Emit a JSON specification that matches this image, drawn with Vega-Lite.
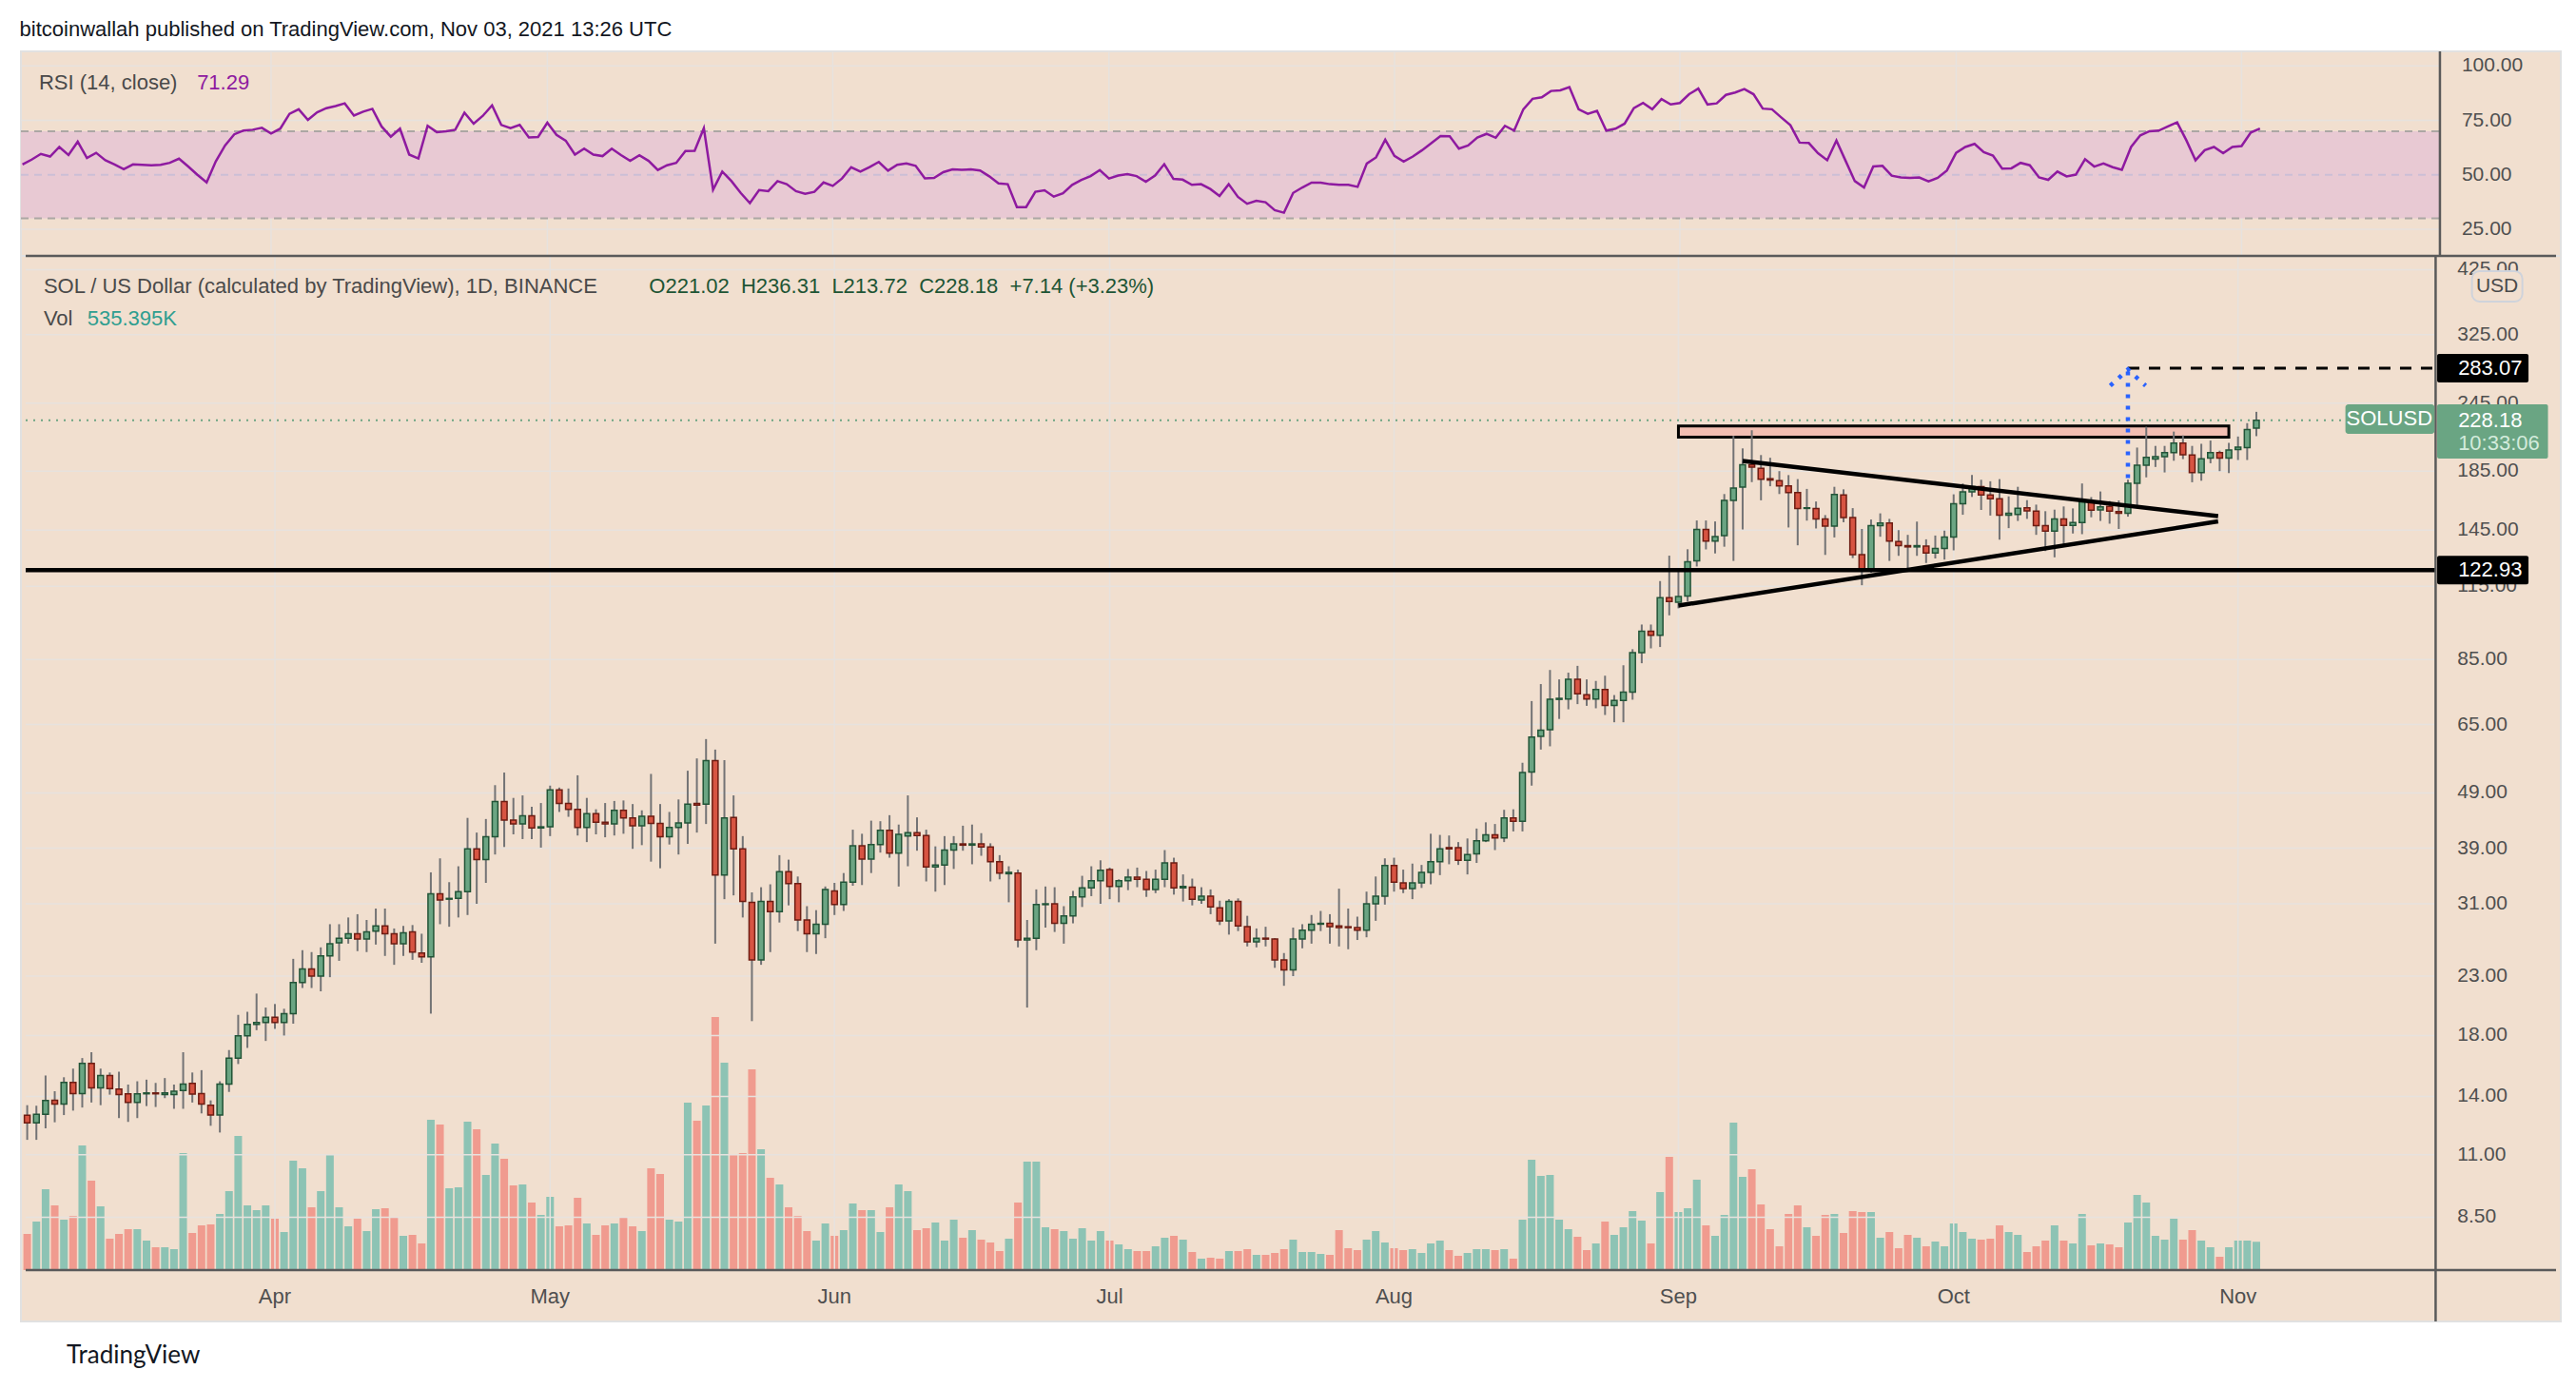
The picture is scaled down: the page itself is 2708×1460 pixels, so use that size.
{
  "$schema": "https://vega.github.io/schema/vega-lite/v6.json",
  "autosize": {"type": "pad"},
  "background": "#ffffff",
  "padding": {"left": 17, "top": 20, "right": 18, "bottom": 0},
  "title": {
    "text": "bitcoinwallah published on TradingView.com, Nov 03, 2021 13:26 UTC",
    "anchor": "start", "dx": 3, "offset": 8.4,
    "fontSize": 22, "fontWeight": "normal", "font": "Liberation Sans", "color": "#131722"
  },
  "spacing": 0,
  "bounds": "flush",
  "datasets": {
    "sol": [
      {"d":"2021-03-05","o":12.95,"h":13.5,"l":11.7,"c":12.55,"v":684,"r":54.8},
      {"d":"2021-03-06","o":12.55,"h":13.47,"l":11.7,"c":13.0,"v":918,"r":57.0},
      {"d":"2021-03-07","o":13.0,"h":15.26,"l":12.27,"c":13.77,"v":1530,"r":59.6},
      {"d":"2021-03-08","o":13.78,"h":14.3,"l":12.58,"c":13.56,"v":1224,"r":58.4},
      {"d":"2021-03-09","o":13.56,"h":15.15,"l":12.96,"c":14.83,"v":954,"r":62.8},
      {"d":"2021-03-10","o":14.83,"h":15.7,"l":13.2,"c":14.16,"v":1026,"r":59.1},
      {"d":"2021-03-11","o":14.16,"h":16.4,"l":13.37,"c":16.04,"v":2358,"r":65.2},
      {"d":"2021-03-12","o":16.04,"h":16.8,"l":13.65,"c":14.5,"v":1692,"r":57.7},
      {"d":"2021-03-13","o":14.5,"h":15.7,"l":13.5,"c":15.26,"v":1206,"r":60.1},
      {"d":"2021-03-14","o":15.26,"h":15.45,"l":14.1,"c":14.45,"v":594,"r":56.7},
      {"d":"2021-03-15","o":14.43,"h":15.5,"l":12.8,"c":14.1,"v":684,"r":54.8},
      {"d":"2021-03-16","o":14.15,"h":14.7,"l":12.6,"c":13.65,"v":774,"r":52.6},
      {"d":"2021-03-17","o":13.65,"h":14.9,"l":12.8,"c":14.15,"v":774,"r":54.8},
      {"d":"2021-03-18","o":14.15,"h":15.0,"l":13.45,"c":14.2,"v":558,"r":54.6},
      {"d":"2021-03-19","o":14.2,"h":14.8,"l":13.4,"c":14.15,"v":432,"r":54.4},
      {"d":"2021-03-20","o":14.1,"h":15.1,"l":13.9,"c":14.2,"v":432,"r":54.6},
      {"d":"2021-03-21","o":14.1,"h":14.7,"l":13.3,"c":14.3,"v":396,"r":55.5},
      {"d":"2021-03-22","o":14.35,"h":16.8,"l":13.3,"c":14.73,"v":2214,"r":57.4},
      {"d":"2021-03-23","o":14.77,"h":15.45,"l":13.65,"c":14.13,"v":702,"r":53.8},
      {"d":"2021-03-24","o":14.16,"h":15.6,"l":13.05,"c":13.56,"v":846,"r":50.0},
      {"d":"2021-03-25","o":13.49,"h":13.77,"l":12.4,"c":12.96,"v":864,"r":46.5},
      {"d":"2021-03-26","o":12.96,"h":14.9,"l":12.06,"c":14.73,"v":1062,"r":56.2},
      {"d":"2021-03-27","o":14.73,"h":16.95,"l":14.26,"c":16.4,"v":1494,"r":63.5},
      {"d":"2021-03-28","o":16.4,"h":19.6,"l":16.0,"c":17.97,"v":2538,"r":68.6},
      {"d":"2021-03-29","o":17.97,"h":19.85,"l":17.1,"c":18.85,"v":1224,"r":70.3},
      {"d":"2021-03-30","o":18.85,"h":21.4,"l":18.4,"c":19.0,"v":1134,"r":70.7},
      {"d":"2021-03-31","o":19.0,"h":20.2,"l":17.6,"c":19.4,"v":1224,"r":71.6},
      {"d":"2021-04-01","o":19.4,"h":20.5,"l":18.5,"c":19.0,"v":972,"r":69.0},
      {"d":"2021-04-02","o":19.0,"h":20.1,"l":18.0,"c":19.7,"v":720,"r":71.2},
      {"d":"2021-04-03","o":19.7,"h":24.7,"l":18.9,"c":22.4,"v":2070,"r":78.0},
      {"d":"2021-04-04","o":22.4,"h":25.6,"l":21.9,"c":23.7,"v":1926,"r":80.1},
      {"d":"2021-04-05","o":23.7,"h":25.4,"l":21.9,"c":23.0,"v":1188,"r":75.2},
      {"d":"2021-04-06","o":23.0,"h":25.9,"l":21.6,"c":25.0,"v":1494,"r":78.7},
      {"d":"2021-04-07","o":25.0,"h":28.5,"l":22.9,"c":26.3,"v":2196,"r":80.6},
      {"d":"2021-04-08","o":26.4,"h":28.5,"l":24.5,"c":26.9,"v":1188,"r":81.6},
      {"d":"2021-04-09","o":26.9,"h":29.3,"l":26.3,"c":27.4,"v":828,"r":82.8},
      {"d":"2021-04-10","o":27.4,"h":29.7,"l":25.5,"c":26.8,"v":972,"r":77.2},
      {"d":"2021-04-11","o":26.8,"h":29.0,"l":25.4,"c":27.6,"v":738,"r":79.0},
      {"d":"2021-04-12","o":27.7,"h":30.4,"l":26.2,"c":28.3,"v":1152,"r":80.3},
      {"d":"2021-04-13","o":28.3,"h":30.4,"l":25.0,"c":27.4,"v":1170,"r":72.2},
      {"d":"2021-04-14","o":27.4,"h":28.0,"l":24.1,"c":26.3,"v":1008,"r":67.5},
      {"d":"2021-04-15","o":26.3,"h":28.3,"l":25.0,"c":27.5,"v":648,"r":71.2},
      {"d":"2021-04-16","o":27.6,"h":28.4,"l":24.6,"c":25.4,"v":666,"r":59.3},
      {"d":"2021-04-17","o":25.3,"h":27.4,"l":24.3,"c":24.9,"v":504,"r":57.5},
      {"d":"2021-04-18","o":24.9,"h":35.3,"l":19.7,"c":32.3,"v":2844,"r":72.5},
      {"d":"2021-04-19","o":32.3,"h":37.4,"l":28.5,"c":31.5,"v":2754,"r":69.6},
      {"d":"2021-04-20","o":31.6,"h":33.9,"l":28.2,"c":31.7,"v":1548,"r":70.0},
      {"d":"2021-04-21","o":31.7,"h":36.2,"l":29.3,"c":32.6,"v":1566,"r":70.7},
      {"d":"2021-04-22","o":32.6,"h":44.2,"l":29.6,"c":38.9,"v":2808,"r":78.5},
      {"d":"2021-04-23","o":38.9,"h":41.6,"l":31.0,"c":37.2,"v":2664,"r":73.5},
      {"d":"2021-04-24","o":37.2,"h":44.0,"l":33.8,"c":40.9,"v":1800,"r":77.1},
      {"d":"2021-04-25","o":40.9,"h":50.6,"l":38.0,"c":47.3,"v":2394,"r":81.9},
      {"d":"2021-04-26","o":47.3,"h":53.3,"l":39.2,"c":43.8,"v":2106,"r":72.9},
      {"d":"2021-04-27","o":43.8,"h":48.0,"l":41.3,"c":43.1,"v":1602,"r":71.4},
      {"d":"2021-04-28","o":43.1,"h":48.5,"l":40.5,"c":44.6,"v":1620,"r":72.9},
      {"d":"2021-04-29","o":44.6,"h":46.3,"l":40.5,"c":42.4,"v":1278,"r":67.2},
      {"d":"2021-04-30","o":42.4,"h":47.0,"l":39.1,"c":42.6,"v":1044,"r":67.4},
      {"d":"2021-05-01","o":42.6,"h":50.5,"l":41.0,"c":49.6,"v":1386,"r":73.9},
      {"d":"2021-05-02","o":49.6,"h":50.1,"l":45.3,"c":46.9,"v":828,"r":68.3},
      {"d":"2021-05-03","o":46.9,"h":49.9,"l":44.4,"c":45.8,"v":846,"r":65.7},
      {"d":"2021-05-04","o":45.8,"h":52.7,"l":41.1,"c":42.5,"v":1368,"r":59.3},
      {"d":"2021-05-05","o":42.5,"h":48.0,"l":40.0,"c":45.0,"v":882,"r":62.0},
      {"d":"2021-05-06","o":45.0,"h":45.8,"l":41.3,"c":43.4,"v":666,"r":59.3},
      {"d":"2021-05-07","o":43.4,"h":47.0,"l":40.8,"c":43.1,"v":846,"r":58.6},
      {"d":"2021-05-08","o":43.1,"h":47.4,"l":41.1,"c":45.6,"v":882,"r":62.0},
      {"d":"2021-05-09","o":45.6,"h":47.5,"l":41.4,"c":44.2,"v":1008,"r":59.1},
      {"d":"2021-05-10","o":44.2,"h":46.8,"l":38.9,"c":42.8,"v":828,"r":56.4},
      {"d":"2021-05-11","o":42.8,"h":45.6,"l":39.5,"c":44.5,"v":738,"r":59.0},
      {"d":"2021-05-12","o":44.5,"h":53.0,"l":36.9,"c":43.2,"v":1926,"r":56.4},
      {"d":"2021-05-13","o":43.2,"h":46.8,"l":35.9,"c":40.9,"v":1818,"r":52.2},
      {"d":"2021-05-14","o":40.9,"h":45.3,"l":39.6,"c":42.5,"v":954,"r":54.4},
      {"d":"2021-05-15","o":42.5,"h":47.7,"l":38.0,"c":43.3,"v":918,"r":55.5},
      {"d":"2021-05-16","o":43.3,"h":53.7,"l":39.7,"c":46.8,"v":3168,"r":60.9},
      {"d":"2021-05-17","o":46.9,"h":56.5,"l":41.6,"c":46.6,"v":2826,"r":61.0},
      {"d":"2021-05-18","o":46.8,"h":61.2,"l":43.1,"c":56.0,"v":3114,"r":71.4},
      {"d":"2021-05-19","o":56.0,"h":58.6,"l":26.3,"c":34.9,"v":4788,"r":43.2},
      {"d":"2021-05-20","o":34.9,"h":56.1,"l":31.6,"c":44.2,"v":3924,"r":51.5},
      {"d":"2021-05-21","o":44.3,"h":48.5,"l":32.1,"c":38.9,"v":2178,"r":47.1},
      {"d":"2021-05-22","o":38.9,"h":41.0,"l":29.3,"c":31.3,"v":2214,"r":41.7},
      {"d":"2021-05-23","o":31.2,"h":32.5,"l":19.1,"c":24.6,"v":3798,"r":37.0},
      {"d":"2021-05-24","o":24.6,"h":33.2,"l":24.1,"c":31.3,"v":2286,"r":43.0},
      {"d":"2021-05-25","o":31.3,"h":33.6,"l":25.4,"c":30.0,"v":1746,"r":42.5},
      {"d":"2021-05-26","o":30.0,"h":37.9,"l":28.7,"c":35.4,"v":1620,"r":47.1},
      {"d":"2021-05-27","o":35.4,"h":37.2,"l":30.8,"c":33.7,"v":1188,"r":45.7},
      {"d":"2021-05-28","o":33.7,"h":34.7,"l":27.7,"c":29.0,"v":1026,"r":42.5},
      {"d":"2021-05-29","o":29.0,"h":30.7,"l":25.4,"c":27.4,"v":738,"r":41.3},
      {"d":"2021-05-30","o":27.4,"h":30.2,"l":25.2,"c":28.5,"v":558,"r":42.2},
      {"d":"2021-05-31","o":28.5,"h":33.3,"l":26.9,"c":32.9,"v":882,"r":46.5},
      {"d":"2021-06-01","o":32.7,"h":33.8,"l":29.6,"c":30.9,"v":648,"r":44.9},
      {"d":"2021-06-02","o":30.9,"h":35.2,"l":30.1,"c":33.9,"v":756,"r":48.3},
      {"d":"2021-06-03","o":33.9,"h":42.1,"l":33.4,"c":39.4,"v":1260,"r":53.5},
      {"d":"2021-06-04","o":39.4,"h":41.4,"l":33.5,"c":37.3,"v":1134,"r":51.5},
      {"d":"2021-06-05","o":37.3,"h":43.7,"l":35.2,"c":39.6,"v":1134,"r":53.6},
      {"d":"2021-06-06","o":39.6,"h":43.6,"l":38.3,"c":42.0,"v":720,"r":55.9},
      {"d":"2021-06-07","o":42.0,"h":44.7,"l":37.5,"c":38.2,"v":1188,"r":51.9},
      {"d":"2021-06-08","o":38.2,"h":43.0,"l":33.3,"c":41.3,"v":1620,"r":54.6},
      {"d":"2021-06-09","o":41.0,"h":48.5,"l":36.2,"c":41.6,"v":1494,"r":55.2},
      {"d":"2021-06-10","o":41.6,"h":44.3,"l":38.6,"c":41.1,"v":756,"r":54.1},
      {"d":"2021-06-11","o":41.1,"h":42.1,"l":34.0,"c":36.1,"v":792,"r":48.4},
      {"d":"2021-06-12","o":36.1,"h":39.3,"l":32.6,"c":36.4,"v":900,"r":48.6},
      {"d":"2021-06-13","o":36.4,"h":41.0,"l":33.5,"c":38.7,"v":558,"r":51.2},
      {"d":"2021-06-14","o":38.7,"h":41.0,"l":35.8,"c":39.7,"v":954,"r":52.5},
      {"d":"2021-06-15","o":39.7,"h":42.8,"l":38.6,"c":39.5,"v":612,"r":52.3},
      {"d":"2021-06-16","o":39.5,"h":43.0,"l":36.5,"c":39.7,"v":756,"r":52.5},
      {"d":"2021-06-17","o":39.7,"h":41.5,"l":37.8,"c":39.2,"v":576,"r":52.0},
      {"d":"2021-06-18","o":39.2,"h":39.8,"l":34.0,"c":36.9,"v":522,"r":49.3},
      {"d":"2021-06-19","o":36.9,"h":37.9,"l":34.3,"c":35.2,"v":360,"r":46.1},
      {"d":"2021-06-20","o":35.1,"h":36.2,"l":31.2,"c":35.3,"v":594,"r":45.7},
      {"d":"2021-06-21","o":35.2,"h":35.7,"l":25.9,"c":26.7,"v":1278,"r":35.2},
      {"d":"2021-06-22","o":26.7,"h":29.0,"l":20.2,"c":26.9,"v":2052,"r":35.2},
      {"d":"2021-06-23","o":26.9,"h":32.9,"l":25.6,"c":30.9,"v":2052,"r":42.2},
      {"d":"2021-06-24","o":30.9,"h":33.3,"l":28.1,"c":31.0,"v":810,"r":42.9},
      {"d":"2021-06-25","o":31.0,"h":33.2,"l":27.6,"c":28.6,"v":774,"r":40.0},
      {"d":"2021-06-26","o":28.6,"h":30.7,"l":26.3,"c":29.5,"v":738,"r":41.5},
      {"d":"2021-06-27","o":29.5,"h":32.7,"l":28.6,"c":31.9,"v":594,"r":45.4},
      {"d":"2021-06-28","o":31.9,"h":34.8,"l":30.6,"c":33.1,"v":792,"r":47.7},
      {"d":"2021-06-29","o":33.1,"h":36.2,"l":32.0,"c":34.1,"v":558,"r":49.4},
      {"d":"2021-06-30","o":34.1,"h":37.1,"l":31.0,"c":35.6,"v":738,"r":52.2},
      {"d":"2021-07-01","o":35.7,"h":36.0,"l":31.6,"c":33.3,"v":558,"r":48.3},
      {"d":"2021-07-02","o":33.3,"h":34.3,"l":31.2,"c":34.1,"v":486,"r":49.7},
      {"d":"2021-07-03","o":34.1,"h":35.8,"l":32.8,"c":34.6,"v":396,"r":50.3},
      {"d":"2021-07-04","o":34.6,"h":36.0,"l":33.2,"c":34.3,"v":360,"r":49.4},
      {"d":"2021-07-05","o":34.3,"h":35.5,"l":31.9,"c":32.9,"v":360,"r":46.8},
      {"d":"2021-07-06","o":32.9,"h":35.7,"l":32.4,"c":34.3,"v":450,"r":49.7},
      {"d":"2021-07-07","o":34.3,"h":38.7,"l":33.2,"c":36.7,"v":612,"r":54.9},
      {"d":"2021-07-08","o":36.7,"h":37.5,"l":32.2,"c":33.1,"v":648,"r":48.1},
      {"d":"2021-07-09","o":33.1,"h":35.0,"l":31.3,"c":33.3,"v":576,"r":47.8},
      {"d":"2021-07-10","o":33.2,"h":34.4,"l":30.8,"c":31.6,"v":342,"r":45.4},
      {"d":"2021-07-11","o":31.5,"h":33.2,"l":31.0,"c":32.0,"v":216,"r":45.7},
      {"d":"2021-07-12","o":32.0,"h":32.9,"l":29.7,"c":30.6,"v":234,"r":43.5},
      {"d":"2021-07-13","o":30.5,"h":31.4,"l":28.4,"c":28.9,"v":216,"r":40.3},
      {"d":"2021-07-14","o":28.9,"h":31.6,"l":27.3,"c":31.3,"v":360,"r":45.7},
      {"d":"2021-07-15","o":31.3,"h":31.7,"l":27.7,"c":28.3,"v":360,"r":39.9},
      {"d":"2021-07-16","o":28.2,"h":29.5,"l":26.0,"c":26.5,"v":396,"r":36.7},
      {"d":"2021-07-17","o":26.5,"h":28.0,"l":25.9,"c":26.9,"v":288,"r":38.1},
      {"d":"2021-07-18","o":26.9,"h":28.2,"l":26.0,"c":26.8,"v":288,"r":37.4},
      {"d":"2021-07-19","o":26.8,"h":26.9,"l":23.8,"c":24.6,"v":324,"r":33.8},
      {"d":"2021-07-20","o":24.6,"h":25.3,"l":22.1,"c":23.6,"v":396,"r":32.6},
      {"d":"2021-07-21","o":23.6,"h":28.1,"l":23.0,"c":26.8,"v":576,"r":41.7},
      {"d":"2021-07-22","o":26.8,"h":28.5,"l":25.8,"c":27.8,"v":342,"r":44.2},
      {"d":"2021-07-23","o":27.8,"h":29.6,"l":26.3,"c":28.5,"v":342,"r":46.4},
      {"d":"2021-07-24","o":28.5,"h":30.1,"l":27.7,"c":28.6,"v":306,"r":46.4},
      {"d":"2021-07-25","o":28.6,"h":29.7,"l":26.3,"c":28.2,"v":288,"r":45.7},
      {"d":"2021-07-26","o":28.3,"h":33.0,"l":26.0,"c":28.1,"v":756,"r":45.4},
      {"d":"2021-07-27","o":28.2,"h":30.4,"l":25.7,"c":28.1,"v":414,"r":45.4},
      {"d":"2021-07-28","o":28.1,"h":29.4,"l":26.7,"c":27.8,"v":378,"r":44.5},
      {"d":"2021-07-29","o":27.8,"h":32.6,"l":27.0,"c":31.0,"v":576,"r":55.2},
      {"d":"2021-07-30","o":31.0,"h":34.7,"l":28.9,"c":32.0,"v":738,"r":58.0},
      {"d":"2021-07-31","o":32.0,"h":37.4,"l":30.9,"c":36.3,"v":522,"r":66.1},
      {"d":"2021-08-01","o":36.3,"h":37.5,"l":32.6,"c":33.9,"v":414,"r":58.7},
      {"d":"2021-08-02","o":33.8,"h":35.7,"l":32.4,"c":33.0,"v":378,"r":56.1},
      {"d":"2021-08-03","o":33.0,"h":36.6,"l":31.6,"c":33.8,"v":396,"r":58.4},
      {"d":"2021-08-04","o":33.8,"h":36.4,"l":33.1,"c":35.3,"v":324,"r":61.3},
      {"d":"2021-08-05","o":35.3,"h":41.4,"l":33.6,"c":36.9,"v":504,"r":64.5},
      {"d":"2021-08-06","o":36.9,"h":41.2,"l":34.9,"c":38.9,"v":558,"r":67.8},
      {"d":"2021-08-07","o":39.1,"h":41.1,"l":36.5,"c":38.9,"v":378,"r":67.7},
      {"d":"2021-08-08","o":39.1,"h":40.0,"l":36.4,"c":37.1,"v":270,"r":62.0},
      {"d":"2021-08-09","o":37.1,"h":40.6,"l":35.0,"c":38.0,"v":324,"r":63.5},
      {"d":"2021-08-10","o":38.1,"h":42.3,"l":36.7,"c":40.2,"v":396,"r":67.1},
      {"d":"2021-08-11","o":40.2,"h":43.4,"l":40.0,"c":41.2,"v":396,"r":68.8},
      {"d":"2021-08-12","o":41.2,"h":43.1,"l":38.7,"c":40.7,"v":378,"r":67.0},
      {"d":"2021-08-13","o":40.7,"h":45.7,"l":40.0,"c":44.2,"v":396,"r":72.5},
      {"d":"2021-08-14","o":44.2,"h":45.8,"l":41.8,"c":43.6,"v":216,"r":70.3},
      {"d":"2021-08-15","o":43.6,"h":55.5,"l":41.8,"c":53.3,"v":954,"r":80.1},
      {"d":"2021-08-16","o":53.4,"h":71.6,"l":50.5,"c":61.7,"v":2088,"r":84.9},
      {"d":"2021-08-17","o":61.9,"h":76.8,"l":58.6,"c":63.5,"v":1782,"r":85.6},
      {"d":"2021-08-18","o":63.6,"h":81.4,"l":59.4,"c":72.1,"v":1800,"r":88.5},
      {"d":"2021-08-19","o":72.1,"h":78.3,"l":66.5,"c":72.4,"v":954,"r":88.8},
      {"d":"2021-08-20","o":72.2,"h":80.5,"l":69.2,"c":78.3,"v":774,"r":90.3},
      {"d":"2021-08-21","o":78.3,"h":82.8,"l":70.7,"c":73.8,"v":630,"r":80.1},
      {"d":"2021-08-22","o":73.5,"h":78.3,"l":70.2,"c":72.2,"v":378,"r":78.0},
      {"d":"2021-08-23","o":72.2,"h":77.8,"l":69.5,"c":75.1,"v":504,"r":79.4},
      {"d":"2021-08-24","o":75.1,"h":79.5,"l":67.6,"c":70.3,"v":918,"r":70.3},
      {"d":"2021-08-25","o":70.3,"h":73.4,"l":65.6,"c":71.8,"v":666,"r":71.2},
      {"d":"2021-08-26","o":71.8,"h":83.0,"l":65.6,"c":74.3,"v":810,"r":73.5},
      {"d":"2021-08-27","o":74.3,"h":88.7,"l":72.0,"c":87.4,"v":1116,"r":80.6},
      {"d":"2021-08-28","o":87.4,"h":98.2,"l":83.7,"c":95.5,"v":936,"r":83.0},
      {"d":"2021-08-29","o":95.5,"h":98.2,"l":89.0,"c":93.9,"v":504,"r":80.1},
      {"d":"2021-08-30","o":93.9,"h":117.5,"l":89.5,"c":109.7,"v":1476,"r":84.8},
      {"d":"2021-08-31","o":109.7,"h":130.5,"l":102.0,"c":108.0,"v":2142,"r":82.3},
      {"d":"2021-09-01","o":107.7,"h":122.2,"l":105.0,"c":110.2,"v":1098,"r":83.0},
      {"d":"2021-09-02","o":110.5,"h":134.0,"l":108.0,"c":127.3,"v":1170,"r":87.0},
      {"d":"2021-09-03","o":127.8,"h":150.9,"l":124.8,"c":145.4,"v":1710,"r":89.6},
      {"d":"2021-09-04","o":145.4,"h":150.9,"l":133.9,"c":138.6,"v":846,"r":82.3},
      {"d":"2021-09-05","o":138.6,"h":150.3,"l":131.7,"c":141.2,"v":648,"r":82.8},
      {"d":"2021-09-06","o":141.8,"h":168.3,"l":135.4,"c":164.0,"v":1044,"r":86.7},
      {"d":"2021-09-07","o":164.0,"h":214.0,"l":127.7,"c":172.5,"v":2790,"r":87.8},
      {"d":"2021-09-08","o":173.2,"h":203.2,"l":145.4,"c":189.9,"v":1764,"r":89.4},
      {"d":"2021-09-09","o":189.9,"h":219.0,"l":176.8,"c":188.1,"v":1908,"r":87.0},
      {"d":"2021-09-10","o":187.1,"h":197.7,"l":164.0,"c":178.9,"v":1242,"r":80.4},
      {"d":"2021-09-11","o":179.3,"h":195.5,"l":173.8,"c":178.3,"v":774,"r":80.1},
      {"d":"2021-09-12","o":177.8,"h":185.0,"l":168.3,"c":174.1,"v":450,"r":76.4},
      {"d":"2021-09-13","o":174.1,"h":182.0,"l":146.6,"c":169.3,"v":1062,"r":72.8},
      {"d":"2021-09-14","o":169.3,"h":179.0,"l":136.2,"c":158.5,"v":1224,"r":64.8},
      {"d":"2021-09-15","o":158.6,"h":171.9,"l":150.8,"c":159.0,"v":810,"r":64.6},
      {"d":"2021-09-16","o":158.6,"h":163.2,"l":146.0,"c":151.9,"v":648,"r":59.9},
      {"d":"2021-09-17","o":151.9,"h":154.3,"l":130.9,"c":147.4,"v":1044,"r":56.7},
      {"d":"2021-09-18","o":147.4,"h":173.4,"l":140.7,"c":168.0,"v":1062,"r":65.7},
      {"d":"2021-09-19","o":167.6,"h":171.6,"l":149.8,"c":152.8,"v":702,"r":56.4},
      {"d":"2021-09-20","o":152.8,"h":158.8,"l":129.2,"c":131.0,"v":1116,"r":47.1},
      {"d":"2021-09-21","o":131.0,"h":145.7,"l":115.5,"c":123.6,"v":1098,"r":44.2},
      {"d":"2021-09-22","o":123.6,"h":151.5,"l":121.6,"c":147.7,"v":1098,"r":53.8},
      {"d":"2021-09-23","o":147.7,"h":155.4,"l":141.1,"c":149.3,"v":612,"r":54.1},
      {"d":"2021-09-24","o":149.3,"h":151.9,"l":127.7,"c":138.6,"v":720,"r":49.6},
      {"d":"2021-09-25","o":138.3,"h":145.0,"l":130.4,"c":136.0,"v":414,"r":48.8},
      {"d":"2021-09-26","o":136.0,"h":142.2,"l":123.2,"c":135.3,"v":666,"r":48.6},
      {"d":"2021-09-27","o":135.3,"h":150.2,"l":130.4,"c":136.0,"v":612,"r":48.8},
      {"d":"2021-09-28","o":135.7,"h":139.6,"l":126.6,"c":131.9,"v":450,"r":47.0},
      {"d":"2021-09-29","o":131.9,"h":141.8,"l":129.0,"c":134.4,"v":540,"r":48.6},
      {"d":"2021-09-30","o":134.4,"h":144.7,"l":128.4,"c":140.9,"v":450,"r":52.0},
      {"d":"2021-10-01","o":140.9,"h":168.1,"l":133.4,"c":161.7,"v":882,"r":60.1},
      {"d":"2021-10-02","o":161.7,"h":175.8,"l":154.5,"c":169.8,"v":720,"r":62.8},
      {"d":"2021-10-03","o":169.8,"h":182.1,"l":166.3,"c":173.6,"v":594,"r":64.2},
      {"d":"2021-10-04","o":173.6,"h":178.5,"l":157.6,"c":167.6,"v":576,"r":60.4},
      {"d":"2021-10-05","o":167.6,"h":177.4,"l":154.0,"c":165.0,"v":594,"r":58.8},
      {"d":"2021-10-06","o":165.0,"h":179.0,"l":139.4,"c":154.3,"v":846,"r":52.9},
      {"d":"2021-10-07","o":154.3,"h":166.7,"l":146.2,"c":155.5,"v":720,"r":53.0},
      {"d":"2021-10-08","o":154.7,"h":173.4,"l":150.6,"c":158.7,"v":666,"r":55.5},
      {"d":"2021-10-09","o":159.0,"h":164.1,"l":151.9,"c":157.0,"v":342,"r":54.4},
      {"d":"2021-10-10","o":156.8,"h":161.1,"l":142.2,"c":147.7,"v":450,"r":48.8},
      {"d":"2021-10-11","o":147.7,"h":156.8,"l":133.0,"c":144.4,"v":558,"r":47.7},
      {"d":"2021-10-12","o":144.4,"h":157.8,"l":129.6,"c":151.9,"v":846,"r":51.5},
      {"d":"2021-10-13","o":151.9,"h":159.9,"l":136.6,"c":147.9,"v":558,"r":49.3},
      {"d":"2021-10-14","o":147.9,"h":158.6,"l":143.0,"c":149.6,"v":504,"r":50.1},
      {"d":"2021-10-15","o":149.6,"h":175.8,"l":142.6,"c":162.9,"v":1062,"r":57.2},
      {"d":"2021-10-16","o":162.9,"h":166.2,"l":152.9,"c":157.4,"v":468,"r":53.8},
      {"d":"2021-10-17","o":157.6,"h":170.1,"l":150.6,"c":159.6,"v":504,"r":55.2},
      {"d":"2021-10-18","o":159.9,"h":163.5,"l":148.9,"c":156.8,"v":486,"r":53.5},
      {"d":"2021-10-19","o":156.6,"h":163.9,"l":145.7,"c":155.4,"v":432,"r":52.3},
      {"d":"2021-10-20","o":155.4,"h":178.6,"l":153.3,"c":176.0,"v":900,"r":62.8},
      {"d":"2021-10-21","o":176.0,"h":203.9,"l":159.9,"c":189.5,"v":1422,"r":68.1},
      {"d":"2021-10-22","o":189.5,"h":222.2,"l":180.3,"c":195.9,"v":1278,"r":70.0},
      {"d":"2021-10-23","o":194.4,"h":205.3,"l":188.2,"c":196.3,"v":648,"r":70.3},
      {"d":"2021-10-24","o":196.3,"h":205.3,"l":184.0,"c":199.6,"v":576,"r":72.2},
      {"d":"2021-10-25","o":199.6,"h":217.8,"l":193.1,"c":207.7,"v":972,"r":74.1},
      {"d":"2021-10-26","o":207.7,"h":214.4,"l":194.4,"c":198.0,"v":576,"r":65.9},
      {"d":"2021-10-27","o":197.8,"h":205.3,"l":176.7,"c":183.8,"v":756,"r":56.7},
      {"d":"2021-10-28","o":183.8,"h":207.1,"l":177.8,"c":194.6,"v":558,"r":61.3},
      {"d":"2021-10-29","o":195.2,"h":209.9,"l":191.1,"c":199.7,"v":432,"r":62.8},
      {"d":"2021-10-30","o":199.7,"h":201.3,"l":185.0,"c":195.2,"v":252,"r":59.9},
      {"d":"2021-10-31","o":195.2,"h":207.9,"l":183.5,"c":201.9,"v":432,"r":62.8},
      {"d":"2021-11-01","o":202.2,"h":213.4,"l":193.7,"c":204.3,"v":558,"r":63.2},
      {"d":"2021-11-02","o":203.8,"h":225.5,"l":193.7,"c":219.7,"v":558,"r":69.4},
      {"d":"2021-11-03","o":221.02,"h":236.31,"l":213.72,"c":228.18,"v":535.395,"r":71.29}
    ],
    "months": [
      {"m":"2021-04-01","lab":"Apr"},{"m":"2021-05-01","lab":"May"},{"m":"2021-06-01","lab":"Jun"},{"m":"2021-07-01","lab":"Jul"},
      {"m":"2021-08-01","lab":"Aug"},{"m":"2021-09-01","lab":"Sep"},{"m":"2021-10-01","lab":"Oct"},{"m":"2021-11-01","lab":"Nov"}
    ],
    "priceTicks": [
      {"t":8.5},{"t":11},{"t":14},{"t":18},{"t":23},{"t":31},{"t":39},{"t":49},
      {"t":65},{"t":85},{"t":115},{"t":145},{"t":185},{"t":245},{"t":325},{"t":425}
    ],
    "rsiTicks": [{"t":25},{"t":50},{"t":75},{"t":100}],
    "triangle": [
      {"g":"upper","d":"2021-09-08T00:00:00Z","p":192.9},
      {"g":"upper","d":"2021-10-29T20:00:00Z","p":153.6},
      {"g":"lower","d":"2021-09-01T00:00:00Z","p":106.2},
      {"g":"lower","d":"2021-10-29T20:00:00Z","p":150.3}
    ],
    "arrow": [
      {"g":"stem","d":"2021-10-20T00:00:00Z","p":179.7},
      {"g":"stem","d":"2021-10-20T00:00:00Z","p":281.5},
      {"g":"head","d":"2021-10-18T01:40:00Z","p":263.2},
      {"g":"head","d":"2021-10-19T01:00:00Z","p":272.1},
      {"g":"head","d":"2021-10-20T00:00:00Z","p":281.5},
      {"g":"head","d":"2021-10-20T23:00:00Z","p":272.1},
      {"g":"head","d":"2021-10-21T22:20:00Z","p":263.2}
    ]
  },
  "vconcat": [
    {
      "width": 2670,
      "height": 215,
      "layer": [
        {
          "data": {"name": "months"},
          "mark": {"type": "rule", "color": "#e7e2de", "strokeWidth": 1.5},
          "encoding": {
            "x": {"field": "m", "type": "temporal", "title": null, "axis": null,
                  "scale": {"type": "utc", "nice": false, "domain": [{"year":2021,"month":3,"date":4,"hours":20,"utc":true},{"year":2021,"month":12,"date":5,"hours":16,"utc":true}]}}
          }
        },
        {
          "data": {"name": "rsiTicks"},
          "mark": {"type": "rule", "color": "#e7e2de", "strokeWidth": 1.5},
          "encoding": {
            "x": {"datum": {"year":2021,"month":3,"date":4,"hours":20,"utc":true}, "type": "temporal", "axis": null,
                  "scale": {"type": "utc", "nice": false, "domain": [{"year":2021,"month":3,"date":4,"hours":20,"utc":true},{"year":2021,"month":12,"date":5,"hours":16,"utc":true}]}},
            "x2": {"datum": {"year":2021,"month":11,"date":22,"hours":13,"utc":true}},
            "y": {"field": "t", "type": "quantitative", "title": null, "axis": null,
                  "scale": {"domain": [12.77, 106.68], "nice": false, "zero": false}}
          }
        },
        {
          "data": {"values": [{}]},
          "mark": {"type": "rect", "color": "#e8c9d3"},
          "encoding": {
            "x": {"datum": {"year":2021,"month":3,"date":4,"hours":20,"utc":true}, "type": "temporal", "axis": null,
                  "scale": {"type": "utc", "nice": false, "domain": [{"year":2021,"month":3,"date":4,"hours":20,"utc":true},{"year":2021,"month":12,"date":5,"hours":16,"utc":true}]}},
            "x2": {"datum": {"year":2021,"month":11,"date":22,"hours":13,"utc":true}},
            "y": {"datum": 30, "type": "quantitative", "axis": null,
                  "scale": {"domain": [12.77, 106.68], "nice": false, "zero": false}},
            "y2": {"datum": 70}
          }
        },
        {
          "data": {"values": [{"t":30},{"t":70}]},
          "mark": {"type": "rule", "color": "#aca7a4", "strokeWidth": 2, "strokeDash": [8, 6]},
          "encoding": {
            "x": {"datum": {"year":2021,"month":3,"date":4,"hours":20,"utc":true}, "type": "temporal", "axis": null,
                  "scale": {"type": "utc", "nice": false, "domain": [{"year":2021,"month":3,"date":4,"hours":20,"utc":true},{"year":2021,"month":12,"date":5,"hours":16,"utc":true}]}},
            "x2": {"datum": {"year":2021,"month":11,"date":22,"hours":13,"utc":true}},
            "y": {"field": "t", "type": "quantitative", "title": null, "axis": null,
                  "scale": {"domain": [12.77, 106.68], "nice": false, "zero": false}}
          }
        },
        {
          "data": {"values": [{"t":50}]},
          "mark": {"type": "rule", "color": "#cbbfd6", "strokeWidth": 2, "strokeDash": [8, 6]},
          "encoding": {
            "x": {"datum": {"year":2021,"month":3,"date":4,"hours":20,"utc":true}, "type": "temporal", "axis": null,
                  "scale": {"type": "utc", "nice": false, "domain": [{"year":2021,"month":3,"date":4,"hours":20,"utc":true},{"year":2021,"month":12,"date":5,"hours":16,"utc":true}]}},
            "x2": {"datum": {"year":2021,"month":11,"date":22,"hours":13,"utc":true}},
            "y": {"field": "t", "type": "quantitative", "title": null, "axis": null,
                  "scale": {"domain": [12.77, 106.68], "nice": false, "zero": false}}
          }
        },
        {
          "data": {"name": "sol"},
          "mark": {"type": "line", "color": "#8e1aa0", "strokeWidth": 2.5},
          "encoding": {
            "x": {"field": "d", "type": "temporal", "title": null, "axis": null,
                  "scale": {"type": "utc", "nice": false, "domain": [{"year":2021,"month":3,"date":4,"hours":20,"utc":true},{"year":2021,"month":12,"date":5,"hours":16,"utc":true}]}},
            "y": {"field": "r", "type": "quantitative", "title": null, "axis": null,
                  "scale": {"domain": [12.77, 106.68], "nice": false, "zero": false}}
          }
        },
        {
          "data": {"name": "rsiTicks"},
          "mark": {"type": "text", "align": "left", "baseline": "middle", "fontSize": 21, "color": "#4f4f4f"},
          "encoding": {
            "x": {"datum": {"year":2021,"month":11,"date":24,"hours":22,"utc":true}, "type": "temporal", "axis": null,
                  "scale": {"type": "utc", "nice": false, "domain": [{"year":2021,"month":3,"date":4,"hours":20,"utc":true},{"year":2021,"month":12,"date":5,"hours":16,"utc":true}]}},
            "y": {"field": "t", "type": "quantitative", "title": null, "axis": null,
                  "scale": {"domain": [12.77, 106.68], "nice": false, "zero": false}},
            "text": {"field": "t", "type": "quantitative", "format": ".2f"}
          }
        },
        {
          "data": {"values": [{}]},
          "mark": {"type": "rule", "color": "#5a5a5a", "strokeWidth": 2.5},
          "encoding": {
            "x": {"datum": {"year":2021,"month":11,"date":22,"hours":13,"utc":true}, "type": "temporal", "axis": null,
                  "scale": {"type": "utc", "nice": false, "domain": [{"year":2021,"month":3,"date":4,"hours":20,"utc":true},{"year":2021,"month":12,"date":5,"hours":16,"utc":true}]}}
          }
        },
        {
          "data": {"values": [{}]},
          "mark": {"type": "text", "align": "left", "baseline": "middle", "fontSize": 22, "color": "#4a4a4a", "text": "RSI (14, close)"},
          "encoding": {
            "x": {"datum": {"year":2021,"month":3,"date":6,"hours":19,"utc":true}, "type": "temporal", "axis": null,
                  "scale": {"type": "utc", "nice": false, "domain": [{"year":2021,"month":3,"date":4,"hours":20,"utc":true},{"year":2021,"month":12,"date":5,"hours":16,"utc":true}]}},
            "y": {"datum": 92.3, "type": "quantitative", "axis": null,
                  "scale": {"domain": [12.77, 106.68], "nice": false, "zero": false}}
          }
        },
        {
          "data": {"values": [{}]},
          "mark": {"type": "text", "align": "left", "baseline": "middle", "fontSize": 22, "color": "#8e1aa0", "text": "71.29"},
          "encoding": {
            "x": {"datum": {"year":2021,"month":3,"date":23,"hours":23,"utc":true}, "type": "temporal", "axis": null,
                  "scale": {"type": "utc", "nice": false, "domain": [{"year":2021,"month":3,"date":4,"hours":20,"utc":true},{"year":2021,"month":12,"date":5,"hours":16,"utc":true}]}},
            "y": {"datum": 92.3, "type": "quantitative", "axis": null,
                  "scale": {"domain": [12.77, 106.68], "nice": false, "zero": false}}
          }
        }
      ]
    },
    {
      "width": 2670,
      "height": 1120,
      "title": {
        "text": "TradingView", "orient": "bottom", "anchor": "start", "dx": 48, "offset": 22,
        "fontSize": 26, "font": "Lato", "fontWeight": "normal", "color": "#131722"
      },
      "resolve": {"scale": {"y": "independent"}},
      "layer": [
        {
          "data": {"name": "sol"},
          "mark": {"type": "bar", "size": 8},
          "encoding": {
            "x": {"field": "d", "type": "temporal", "title": null, "axis": null,
                  "scale": {"type": "utc", "nice": false, "domain": [{"year":2021,"month":3,"date":4,"hours":20,"utc":true},{"year":2021,"month":12,"date":5,"hours":16,"utc":true}]}},
            "y": {"field": "v", "type": "quantitative", "axis": null,
                  "scale": {"domain": [-972, 19188], "nice": false}},
            "y2": {"datum": 0},
            "color": {"condition": {"test": "datum.c >= datum.o", "value": "#8dc3b4"}, "value": "#f09b8f"}
          }
        },
        {
          "layer": [
            {
              "data": {"name": "months"},
              "mark": {"type": "rule", "color": "#e7e2de", "strokeWidth": 1.5},
              "encoding": {
                "x": {"field": "m", "type": "temporal", "title": null, "axis": null,
                      "scale": {"type": "utc", "nice": false, "domain": [{"year":2021,"month":3,"date":4,"hours":20,"utc":true},{"year":2021,"month":12,"date":5,"hours":16,"utc":true}]}},
                "y": {"datum": 6.835, "type": "quantitative", "axis": null,
                      "scale": {"type": "log", "domain": [5.528, 449.8], "nice": false}},
                "y2": {"datum": 449.8}
              }
            },
            {
              "data": {"name": "priceTicks"},
              "mark": {"type": "rule", "color": "#e7e2de", "strokeWidth": 1.5},
              "encoding": {
                "x": {"datum": {"year":2021,"month":3,"date":4,"hours":20,"utc":true}, "type": "temporal", "axis": null,
                      "scale": {"type": "utc", "nice": false, "domain": [{"year":2021,"month":3,"date":4,"hours":20,"utc":true},{"year":2021,"month":12,"date":5,"hours":16,"utc":true}]}},
                "x2": {"datum": {"year":2021,"month":11,"date":22,"hours":13,"utc":true}},
                "y": {"field": "t", "type": "quantitative", "title": null, "axis": null,
                      "scale": {"type": "log", "domain": [5.528, 449.8], "nice": false}}
              }
            },
            {
              "data": {"values": [{}]},
              "mark": {"type": "rule", "color": "#6ba583", "strokeWidth": 2, "strokeDash": [2, 6]},
              "encoding": {
                "x": {"datum": {"year":2021,"month":3,"date":4,"hours":20,"utc":true}, "type": "temporal", "axis": null,
                      "scale": {"type": "utc", "nice": false, "domain": [{"year":2021,"month":3,"date":4,"hours":20,"utc":true},{"year":2021,"month":12,"date":5,"hours":16,"utc":true}]}},
                "x2": {"datum": {"year":2021,"month":11,"date":22,"hours":13,"utc":true}},
                "y": {"datum": 228.18, "type": "quantitative", "axis": null,
                      "scale": {"type": "log", "domain": [5.528, 449.8], "nice": false}}
              }
            },
            {
              "data": {"values": [{}]},
              "mark": {"type": "rect", "fill": "#f2beb2", "stroke": "#000000", "strokeWidth": 3},
              "encoding": {
                "x": {"datum": {"year":2021,"month":9,"date":1,"utc":true}, "type": "temporal", "axis": null,
                      "scale": {"type": "utc", "nice": false, "domain": [{"year":2021,"month":3,"date":4,"hours":20,"utc":true},{"year":2021,"month":12,"date":5,"hours":16,"utc":true}]}},
                "x2": {"datum": {"year":2021,"month":10,"date":31,"utc":true}},
                "y": {"datum": 212.9, "type": "quantitative", "axis": null,
                      "scale": {"type": "log", "domain": [5.528, 449.8], "nice": false}},
                "y2": {"datum": 222.8}
              }
            },
            {
              "data": {"name": "sol"},
              "mark": {"type": "rule", "color": "#737375", "strokeWidth": 2},
              "encoding": {
                "x": {"field": "d", "type": "temporal", "title": null, "axis": null,
                      "scale": {"type": "utc", "nice": false, "domain": [{"year":2021,"month":3,"date":4,"hours":20,"utc":true},{"year":2021,"month":12,"date":5,"hours":16,"utc":true}]}},
                "y": {"field": "l", "type": "quantitative", "title": null, "axis": null,
                      "scale": {"type": "log", "domain": [5.528, 449.8], "nice": false}},
                "y2": {"field": "h"}
              }
            },
            {
              "data": {"name": "sol"},
              "mark": {"type": "bar", "size": 6, "strokeWidth": 1.5},
              "encoding": {
                "x": {"field": "d", "type": "temporal", "title": null, "axis": null,
                      "scale": {"type": "utc", "nice": false, "domain": [{"year":2021,"month":3,"date":4,"hours":20,"utc":true},{"year":2021,"month":12,"date":5,"hours":16,"utc":true}]}},
                "y": {"field": "o", "type": "quantitative", "title": null, "axis": null,
                      "scale": {"type": "log", "domain": [5.528, 449.8], "nice": false}},
                "y2": {"field": "c"},
                "fill": {"condition": {"test": "datum.c >= datum.o", "value": "#6ba583"}, "value": "#d75442"},
                "stroke": {"condition": {"test": "datum.c >= datum.o", "value": "#225437"}, "value": "#6e1c12"}
              }
            },
            {
              "data": {"values": [{}]},
              "mark": {"type": "rule", "color": "#000000", "strokeWidth": 4.5},
              "encoding": {
                "x": {"datum": {"year":2021,"month":3,"date":4,"hours":20,"utc":true}, "type": "temporal", "axis": null,
                      "scale": {"type": "utc", "nice": false, "domain": [{"year":2021,"month":3,"date":4,"hours":20,"utc":true},{"year":2021,"month":12,"date":5,"hours":16,"utc":true}]}},
                "x2": {"datum": {"year":2021,"month":11,"date":22,"hours":13,"utc":true}},
                "y": {"datum": 122.93, "type": "quantitative", "axis": null,
                      "scale": {"type": "log", "domain": [5.528, 449.8], "nice": false}}
              }
            },
            {
              "data": {"name": "triangle"},
              "mark": {"type": "line", "color": "#000000", "strokeWidth": 4.5},
              "encoding": {
                "x": {"field": "d", "type": "temporal", "title": null, "axis": null,
                      "scale": {"type": "utc", "nice": false, "domain": [{"year":2021,"month":3,"date":4,"hours":20,"utc":true},{"year":2021,"month":12,"date":5,"hours":16,"utc":true}]}},
                "y": {"field": "p", "type": "quantitative", "title": null, "axis": null,
                      "scale": {"type": "log", "domain": [5.528, 449.8], "nice": false}},
                "detail": {"field": "g"}
              }
            },
            {
              "data": {"values": [{}]},
              "mark": {"type": "rule", "color": "#000000", "strokeWidth": 3, "strokeDash": [12, 10]},
              "encoding": {
                "x": {"datum": {"year":2021,"month":10,"date":20,"utc":true}, "type": "temporal", "axis": null,
                      "scale": {"type": "utc", "nice": false, "domain": [{"year":2021,"month":3,"date":4,"hours":20,"utc":true},{"year":2021,"month":12,"date":5,"hours":16,"utc":true}]}},
                "x2": {"datum": {"year":2021,"month":11,"date":22,"hours":13,"utc":true}},
                "y": {"datum": 283.07, "type": "quantitative", "axis": null,
                      "scale": {"type": "log", "domain": [5.528, 449.8], "nice": false}}
              }
            },
            {
              "data": {"name": "arrow"},
              "mark": {"type": "line", "color": "#2962ff", "strokeWidth": 4.5, "strokeDash": [4, 8]},
              "encoding": {
                "x": {"field": "d", "type": "temporal", "title": null, "axis": null,
                      "scale": {"type": "utc", "nice": false, "domain": [{"year":2021,"month":3,"date":4,"hours":20,"utc":true},{"year":2021,"month":12,"date":5,"hours":16,"utc":true}]}},
                "y": {"field": "p", "type": "quantitative", "title": null, "axis": null,
                      "scale": {"type": "log", "domain": [5.528, 449.8], "nice": false}},
                "detail": {"field": "g"}
              }
            },
            {
              "data": {"name": "priceTicks"},
              "mark": {"type": "text", "align": "left", "baseline": "middle", "fontSize": 21, "color": "#4f4f4f"},
              "encoding": {
                "x": {"datum": {"year":2021,"month":11,"date":24,"hours":22,"utc":true}, "type": "temporal", "axis": null,
                      "scale": {"type": "utc", "nice": false, "domain": [{"year":2021,"month":3,"date":4,"hours":20,"utc":true},{"year":2021,"month":12,"date":5,"hours":16,"utc":true}]}},
                "y": {"field": "t", "type": "quantitative", "title": null, "axis": null,
                      "scale": {"type": "log", "domain": [5.528, 449.8], "nice": false}},
                "text": {"field": "t", "type": "quantitative", "format": ".2f"}
              }
            },
            {
              "data": {"name": "months"},
              "mark": {"type": "text", "align": "center", "baseline": "middle", "fontSize": 22, "color": "#4f4f4f"},
              "encoding": {
                "x": {"field": "m", "type": "temporal", "title": null, "axis": null,
                      "scale": {"type": "utc", "nice": false, "domain": [{"year":2021,"month":3,"date":4,"hours":20,"utc":true},{"year":2021,"month":12,"date":5,"hours":16,"utc":true}]}},
                "y": {"datum": 6.12, "type": "quantitative", "axis": null,
                      "scale": {"type": "log", "domain": [5.528, 449.8], "nice": false}},
                "text": {"field": "lab"}
              }
            },
            {
              "data": {"values": [{}]},
              "mark": {"type": "rule", "color": "#5a5a5a", "strokeWidth": 2.5},
              "encoding": {
                "x": {"datum": {"year":2021,"month":11,"date":22,"hours":13,"utc":true}, "type": "temporal", "axis": null,
                      "scale": {"type": "utc", "nice": false, "domain": [{"year":2021,"month":3,"date":4,"hours":20,"utc":true},{"year":2021,"month":12,"date":5,"hours":16,"utc":true}]}}
              }
            },
            {
              "data": {"values": [{"p": 449.8}, {"p": 6.835}]},
              "mark": {"type": "rule", "color": "#5a5a5a", "strokeWidth": 2.5},
              "encoding": {
                "x": {"datum": {"year":2021,"month":3,"date":4,"hours":20,"utc":true}, "type": "temporal", "axis": null,
                      "scale": {"type": "utc", "nice": false, "domain": [{"year":2021,"month":3,"date":4,"hours":20,"utc":true},{"year":2021,"month":12,"date":5,"hours":16,"utc":true}]}},
                "x2": {"datum": {"year":2021,"month":12,"date":5,"hours":16,"utc":true}},
                "y": {"field": "p", "type": "quantitative", "title": null, "axis": null,
                      "scale": {"type": "log", "domain": [5.528, 449.8], "nice": false}}
              }
            },
            {
              "data": {"values": [{"lo": 266.9, "hi": 300.2}, {"lo": 115.9, "hi": 130.4}]},
              "mark": {"type": "rect", "color": "#000000", "cornerRadius": 2},
              "encoding": {
                "x": {"datum": {"year":2021,"month":11,"date":22,"hours":17,"utc":true}, "type": "temporal", "axis": null,
                      "scale": {"type": "utc", "nice": false, "domain": [{"year":2021,"month":3,"date":4,"hours":20,"utc":true},{"year":2021,"month":12,"date":5,"hours":16,"utc":true}]}},
                "x2": {"datum": {"year":2021,"month":12,"date":2,"hours":16,"utc":true}},
                "y": {"field": "lo", "type": "quantitative", "title": null, "axis": null,
                      "scale": {"type": "log", "domain": [5.528, 449.8], "nice": false}},
                "y2": {"field": "hi"}
              }
            },
            {
              "data": {"values": [{}]},
              "mark": {"type": "rect", "color": "#6aa583", "cornerRadius": 2},
              "encoding": {
                "x": {"datum": {"year":2021,"month":11,"date":22,"hours":17,"utc":true}, "type": "temporal", "axis": null,
                      "scale": {"type": "utc", "nice": false, "domain": [{"year":2021,"month":3,"date":4,"hours":20,"utc":true},{"year":2021,"month":12,"date":5,"hours":16,"utc":true}]}},
                "x2": {"datum": {"year":2021,"month":12,"date":4,"hours":19,"utc":true}},
                "y": {"datum": 194.9, "type": "quantitative", "axis": null,
                      "scale": {"type": "log", "domain": [5.528, 449.8], "nice": false}},
                "y2": {"datum": 243.8}
              }
            },
            {
              "data": {"values": [{}]},
              "mark": {"type": "rect", "color": "#6aa583", "cornerRadius": 3},
              "encoding": {
                "x": {"datum": {"year":2021,"month":11,"date":12,"hours":17,"utc":true}, "type": "temporal", "axis": null,
                      "scale": {"type": "utc", "nice": false, "domain": [{"year":2021,"month":3,"date":4,"hours":20,"utc":true},{"year":2021,"month":12,"date":5,"hours":16,"utc":true}]}},
                "x2": {"datum": {"year":2021,"month":11,"date":22,"hours":10,"utc":true}},
                "y": {"datum": 215.9, "type": "quantitative", "axis": null,
                      "scale": {"type": "log", "domain": [5.528, 449.8], "nice": false}},
                "y2": {"datum": 243.8}
              }
            },
            {
              "data": {"values": [{}]},
              "mark": {"type": "rect", "fill": "#f1dfcf", "stroke": "#cfd3db", "strokeWidth": 2, "cornerRadius": 8},
              "encoding": {
                "x": {"datum": {"year":2021,"month":11,"date":26,"hours":12,"utc":true}, "type": "temporal", "axis": null,
                      "scale": {"type": "utc", "nice": false, "domain": [{"year":2021,"month":3,"date":4,"hours":20,"utc":true},{"year":2021,"month":12,"date":5,"hours":16,"utc":true}]}},
                "x2": {"datum": {"year":2021,"month":12,"date":2,"utc":true}},
                "y": {"datum": 372.6, "type": "quantitative", "axis": null,
                      "scale": {"type": "log", "domain": [5.528, 449.8], "nice": false}},
                "y2": {"datum": 422.5}
              }
            },
            {
              "data": {"values": [{"p": 283.07, "label": "283.07"}, {"p": 122.93, "label": "122.93"}, {"p": 228.18, "label": "228.18"}]},
              "mark": {"type": "text", "align": "left", "baseline": "middle", "fontSize": 22, "color": "#ffffff"},
              "encoding": {
                "x": {"datum": {"year":2021,"month":11,"date":25,"utc":true}, "type": "temporal", "axis": null,
                      "scale": {"type": "utc", "nice": false, "domain": [{"year":2021,"month":3,"date":4,"hours":20,"utc":true},{"year":2021,"month":12,"date":5,"hours":16,"utc":true}]}},
                "y": {"field": "p", "type": "quantitative", "title": null, "axis": null,
                      "scale": {"type": "log", "domain": [5.528, 449.8], "nice": false}},
                "text": {"field": "label"}
              }
            },
            {
              "data": {"values": [{}]},
              "mark": {"type": "text", "align": "left", "baseline": "middle", "fontSize": 22, "color": "#d3ebdc", "text": "10:33:06"},
              "encoding": {
                "x": {"datum": {"year":2021,"month":11,"date":25,"utc":true}, "type": "temporal", "axis": null,
                      "scale": {"type": "utc", "nice": false, "domain": [{"year":2021,"month":3,"date":4,"hours":20,"utc":true},{"year":2021,"month":12,"date":5,"hours":16,"utc":true}]}},
                "y": {"datum": 207.6, "type": "quantitative", "axis": null,
                      "scale": {"type": "log", "domain": [5.528, 449.8], "nice": false}}
              }
            },
            {
              "data": {"values": [{}]},
              "mark": {"type": "text", "align": "center", "baseline": "middle", "fontSize": 22, "color": "#ffffff", "text": "SOLUSD"},
              "encoding": {
                "x": {"datum": {"year":2021,"month":11,"date":17,"hours":12,"utc":true}, "type": "temporal", "axis": null,
                      "scale": {"type": "utc", "nice": false, "domain": [{"year":2021,"month":3,"date":4,"hours":20,"utc":true},{"year":2021,"month":12,"date":5,"hours":16,"utc":true}]}},
                "y": {"datum": 229.4, "type": "quantitative", "axis": null,
                      "scale": {"type": "log", "domain": [5.528, 449.8], "nice": false}}
              }
            },
            {
              "data": {"values": [{}]},
              "mark": {"type": "text", "align": "center", "baseline": "middle", "fontSize": 21, "color": "#4a4a4a", "text": "USD"},
              "encoding": {
                "x": {"datum": {"year":2021,"month":11,"date":29,"hours":6,"utc":true}, "type": "temporal", "axis": null,
                      "scale": {"type": "utc", "nice": false, "domain": [{"year":2021,"month":3,"date":4,"hours":20,"utc":true},{"year":2021,"month":12,"date":5,"hours":16,"utc":true}]}},
                "y": {"datum": 396.8, "type": "quantitative", "axis": null,
                      "scale": {"type": "log", "domain": [5.528, 449.8], "nice": false}}
              }
            },
            {
              "data": {"values": [{}]},
              "mark": {"type": "text", "align": "left", "baseline": "middle", "fontSize": 22, "color": "#4a4a4a", "text": "SOL / US Dollar (calculated by TradingView), 1D, BINANCE"},
              "encoding": {
                "x": {"datum": {"year":2021,"month":3,"date":6,"hours":19,"utc":true}, "type": "temporal", "axis": null,
                      "scale": {"type": "utc", "nice": false, "domain": [{"year":2021,"month":3,"date":4,"hours":20,"utc":true},{"year":2021,"month":12,"date":5,"hours":16,"utc":true}]}},
                "y": {"datum": 397, "type": "quantitative", "axis": null,
                      "scale": {"type": "log", "domain": [5.528, 449.8], "nice": false}}
              }
            },
            {
              "data": {"values": [{}]},
              "mark": {"type": "text", "align": "left", "baseline": "middle", "fontSize": 22, "color": "#1e5535", "text": "O221.02\u00a0\u00a0H236.31\u00a0\u00a0L213.72\u00a0\u00a0C228.18\u00a0\u00a0+7.14 (+3.23%)"},
              "encoding": {
                "x": {"datum": {"year":2021,"month":5,"date":11,"hours":19,"utc":true}, "type": "temporal", "axis": null,
                      "scale": {"type": "utc", "nice": false, "domain": [{"year":2021,"month":3,"date":4,"hours":20,"utc":true},{"year":2021,"month":12,"date":5,"hours":16,"utc":true}]}},
                "y": {"datum": 397, "type": "quantitative", "axis": null,
                      "scale": {"type": "log", "domain": [5.528, 449.8], "nice": false}}
              }
            },
            {
              "data": {"values": [{}]},
              "mark": {"type": "text", "align": "left", "baseline": "middle", "fontSize": 22, "color": "#4a4a4a", "text": "Vol"},
              "encoding": {
                "x": {"datum": {"year":2021,"month":3,"date":6,"hours":19,"utc":true}, "type": "temporal", "axis": null,
                      "scale": {"type": "utc", "nice": false, "domain": [{"year":2021,"month":3,"date":4,"hours":20,"utc":true},{"year":2021,"month":12,"date":5,"hours":16,"utc":true}]}},
                "y": {"datum": 347.3, "type": "quantitative", "axis": null,
                      "scale": {"type": "log", "domain": [5.528, 449.8], "nice": false}}
              }
            },
            {
              "data": {"values": [{}]},
              "mark": {"type": "text", "align": "left", "baseline": "middle", "fontSize": 22, "color": "#2f9e8f", "text": "535.395K"},
              "encoding": {
                "x": {"datum": {"year":2021,"month":3,"date":11,"hours":13,"utc":true}, "type": "temporal", "axis": null,
                      "scale": {"type": "utc", "nice": false, "domain": [{"year":2021,"month":3,"date":4,"hours":20,"utc":true},{"year":2021,"month":12,"date":5,"hours":16,"utc":true}]}},
                "y": {"datum": 347.3, "type": "quantitative", "axis": null,
                      "scale": {"type": "log", "domain": [5.528, 449.8], "nice": false}}
              }
            }
          ]
        }
      ]
    }
  ],
  "config": {
    "font": "Liberation Sans",
    "view": {"fill": "#f1dfcf", "stroke": "#e1e1e1", "strokeWidth": 2}
  }
}
